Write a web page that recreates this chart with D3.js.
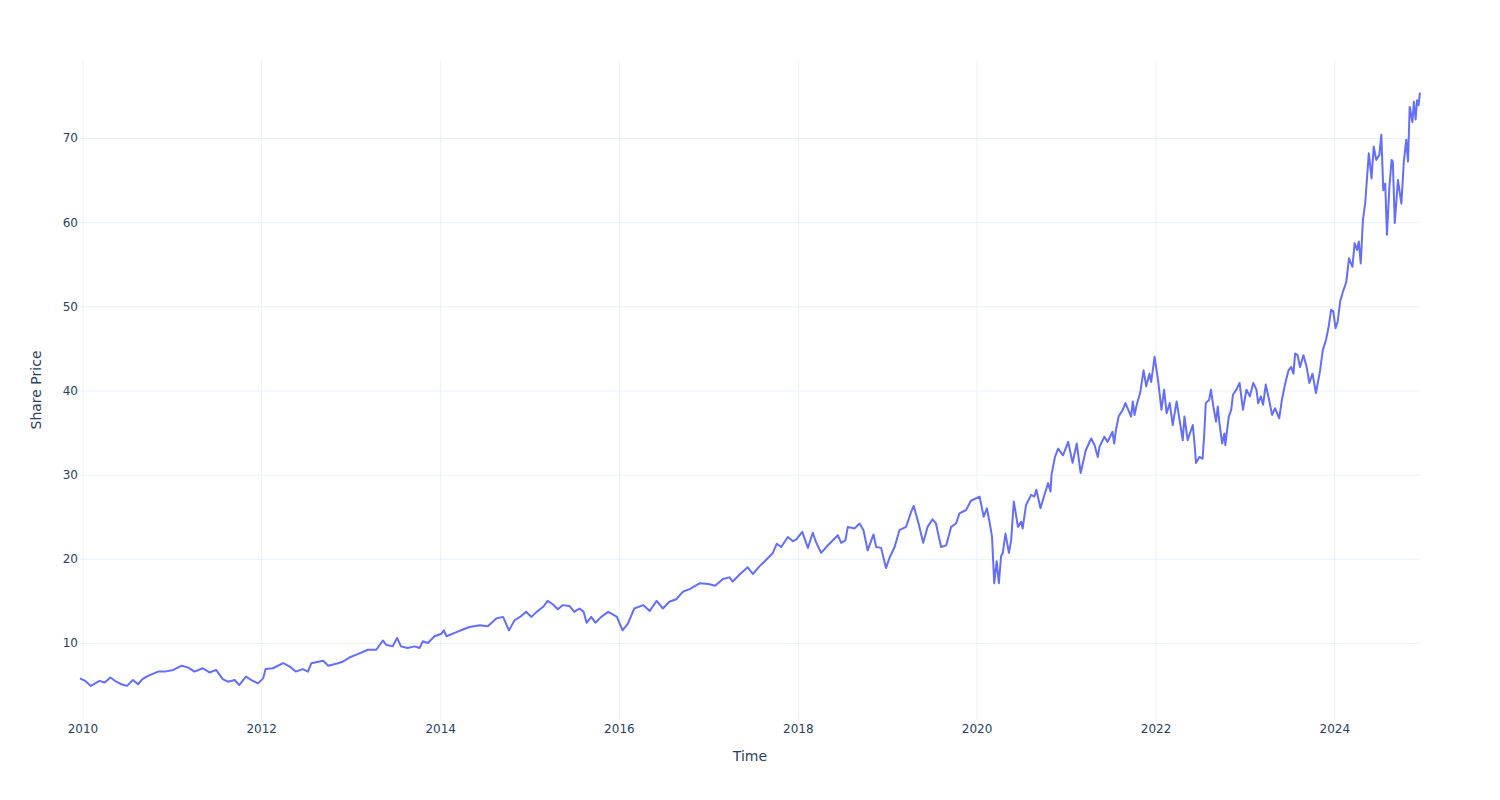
<!DOCTYPE html>
<html>
<head>
<meta charset="utf-8">
<script src="https://cdn.jsdelivr.net/npm/d3@7"></script>
<style>
  html, body { margin: 0; padding: 0; background: #fff; }
  svg { display: block; }
  text { font-family: "DejaVu Sans", sans-serif; }
</style>
</head>
<body>
<svg id="chart" width="1500" height="800"></svg>
<script>
const dates = [
"2009-12-22","2010-01-12","2010-02-04","2010-03-12","2010-04-02","2010-04-25","2010-05-19","2010-06-09","2010-07-02","2010-07-26",
"2010-08-16","2010-09-03","2010-09-26","2010-11-06","2010-12-03","2011-01-07","2011-02-10","2011-03-07","2011-04-04","2011-05-07",
"2011-06-04","2011-07-01","2011-07-28","2011-08-18","2011-09-15","2011-10-03","2011-10-31","2011-11-22","2011-12-19","2012-01-09",
"2012-01-19","2012-02-18","2012-03-31","2012-04-27","2012-05-21","2012-06-19","2012-07-10","2012-07-24","2012-09-10","2012-10-01",
"2012-11-10","2012-12-01","2012-12-28","2013-02-01","2013-03-12","2013-04-15","2013-05-12","2013-05-25","2013-06-21","2013-07-09",
"2013-07-25","2013-08-21","2013-09-18","2013-10-09","2013-10-22","2013-11-12","2013-12-09","2014-01-06","2014-01-16","2014-01-27",
"2014-03-01","2014-04-04","2014-05-01","2014-06-12","2014-07-15","2014-08-18","2014-09-15","2014-10-09","2014-11-01","2014-11-28",
"2014-12-18","2015-01-09","2015-01-30","2015-02-26","2015-03-16","2015-04-06","2015-04-27","2015-05-16","2015-06-13","2015-07-03",
"2015-07-24","2015-08-10","2015-08-22","2015-09-10","2015-09-27","2015-10-21","2015-11-18","2015-12-07","2015-12-24","2016-01-16",
"2016-02-07","2016-03-04","2016-04-09","2016-05-06","2016-06-03","2016-06-29","2016-07-25","2016-08-22","2016-09-19","2016-10-16",
"2016-11-27","2017-01-01","2017-01-28","2017-03-01","2017-03-28","2017-04-10","2017-05-07","2017-06-10","2017-07-01","2017-07-28",
"2017-08-25","2017-09-21","2017-10-07","2017-10-25","2017-11-21","2017-12-12","2017-12-26","2018-01-19","2018-02-11","2018-03-03",
"2018-03-16","2018-04-06","2018-04-27","2018-05-17","2018-06-13","2018-06-27","2018-07-14","2018-07-24","2018-08-20","2018-09-10",
"2018-09-26","2018-10-13","2018-11-06","2018-11-17","2018-12-07","2018-12-27","2019-01-10","2019-01-31","2019-02-20","2019-03-19",
"2019-04-09","2019-04-19","2019-05-09","2019-05-28","2019-06-15","2019-07-05","2019-07-19","2019-08-09","2019-08-30","2019-09-19",
"2019-10-09","2019-10-23","2019-11-19","2019-12-09","2020-01-13","2020-01-30","2020-02-12","2020-02-24","2020-03-04","2020-03-13",
"2020-03-23","2020-04-01","2020-04-10","2020-04-17","2020-04-28","2020-05-12","2020-05-21","2020-06-01","2020-06-18","2020-07-01",
"2020-07-07","2020-07-21","2020-08-11","2020-08-24","2020-09-01","2020-09-18","2020-10-06","2020-10-19","2020-10-29","2020-11-02",
"2020-11-16","2020-11-29","2020-12-19","2021-01-09","2021-01-27","2021-02-13","2021-03-01","2021-03-22","2021-04-13","2021-04-27",
"2021-05-10","2021-05-17","2021-06-06","2021-06-19","2021-07-09","2021-07-16","2021-07-23","2021-08-03","2021-08-20","2021-08-31",
"2021-09-23","2021-09-30","2021-10-07","2021-10-16","2021-10-30","2021-11-13","2021-11-24","2021-12-07","2021-12-14","2021-12-28",
"2022-01-11","2022-01-25","2022-02-05","2022-02-15","2022-02-28","2022-03-12","2022-03-28","2022-04-09","2022-04-22","2022-04-29",
"2022-05-12","2022-06-02","2022-06-09","2022-06-15","2022-06-29","2022-07-12","2022-07-19","2022-07-25","2022-08-08","2022-08-15",
"2022-08-25","2022-09-05","2022-09-12","2022-09-19","2022-09-30","2022-10-09","2022-10-13","2022-10-27","2022-11-06","2022-11-13",
"2022-11-27","2022-12-10","2022-12-24","2023-01-07","2023-01-21","2023-02-04","2023-02-17","2023-02-24","2023-03-07","2023-03-16",
"2023-03-27","2023-04-08","2023-04-22","2023-05-04","2023-05-21","2023-06-01","2023-06-15","2023-06-28","2023-07-09","2023-07-18",
"2023-07-25","2023-08-04","2023-08-14","2023-08-28","2023-09-10","2023-09-21","2023-10-04","2023-10-18","2023-11-04","2023-11-15",
"2023-11-28","2023-12-09","2023-12-19","2023-12-28","2024-01-06","2024-01-15","2024-01-25","2024-02-05","2024-02-19","2024-03-01",
"2024-03-15","2024-03-24","2024-04-03","2024-04-10","2024-04-18","2024-04-27","2024-05-06","2024-05-10","2024-05-21","2024-06-01",
"2024-06-10","2024-06-20","2024-07-03","2024-07-11","2024-07-19","2024-07-27","2024-08-03","2024-08-13","2024-08-22","2024-08-27",
"2024-09-04","2024-09-17","2024-10-01","2024-10-11","2024-10-21","2024-10-28","2024-11-04","2024-11-15","2024-11-21","2024-11-28",
"2024-12-04","2024-12-10","2024-12-16"
];
const prices = [
5.8,5.5,4.9,5.5,5.3,5.9,5.4,5.1,4.9,5.6,
5.1,5.7,6.1,6.6,6.6,6.8,7.3,7.1,6.6,7.0,
6.5,6.8,5.7,5.4,5.6,5.0,6.0,5.6,5.2,5.8,
6.9,7.0,7.6,7.2,6.6,6.9,6.6,7.6,7.9,7.3,
7.6,7.8,8.3,8.7,9.2,9.2,10.3,9.8,9.6,10.6,
9.6,9.4,9.6,9.4,10.2,10.0,10.8,11.1,11.5,10.8,
11.2,11.6,11.9,12.1,12.0,12.9,13.1,11.5,12.7,13.2,
13.7,13.1,13.7,14.3,15.0,14.6,14.0,14.5,14.4,13.7,
14.1,13.7,12.4,13.1,12.4,13.1,13.7,13.4,13.1,11.5,
12.3,14.1,14.5,13.8,15.0,14.1,14.9,15.2,16.1,16.4,
17.1,17.0,16.8,17.6,17.8,17.3,18.1,19.0,18.2,19.1,
19.9,20.7,21.8,21.4,22.6,22.1,22.3,23.2,21.3,23.1,
22.0,20.7,21.4,22.0,22.8,21.9,22.2,23.8,23.6,24.2,
23.4,21.0,22.9,21.4,21.3,18.9,20.1,21.4,23.4,23.8,
25.6,26.3,24.2,21.9,23.8,24.7,24.2,21.4,21.6,23.8,
24.2,25.4,25.8,26.9,27.4,25.0,26.0,24.2,22.6,17.1,
19.7,17.1,20.3,20.7,23.0,20.7,22.2,26.8,23.8,24.4,
23.6,26.4,27.6,27.4,28.2,26.0,27.8,29.0,28.0,30.0,
32.1,33.1,32.3,33.9,31.4,33.7,30.2,32.9,34.3,33.5,
32.1,33.3,34.5,33.9,35.1,33.7,35.3,36.9,37.7,38.5,
36.9,38.7,37.1,38.3,39.7,42.4,40.5,42.0,41.0,44.0,
41.25,37.7,40.1,37.3,38.5,35.9,38.7,36.5,34.1,36.9,
34.1,35.9,33.7,31.4,32.1,31.9,34.9,38.5,38.9,40.1,
38.1,36.3,38.1,36.1,33.7,34.9,33.5,36.9,37.7,39.5,
40.1,40.9,37.7,40.1,39.3,40.9,40.1,38.5,39.3,38.3,
40.7,39.1,37.1,37.9,36.7,38.9,40.9,42.4,42.8,42.0,
44.4,44.2,42.8,44.2,42.8,40.9,42.0,39.7,42.4,44.8,
46.0,47.6,49.6,49.4,47.4,48.2,50.6,51.7,52.9,55.7,
54.7,57.5,56.7,57.7,55.1,60.3,62.2,63.8,68.2,65.2,
69.0,67.4,68.0,70.4,63.8,64.6,58.5,64.2,67.4,67.2,
59.9,65.0,62.2,67.2,69.8,67.2,73.7,71.9,74.3,72.2,
74.5,73.9,75.4
];
const yTickValues = [10, 20, 30, 40, 50, 60, 70];
const xTitle = "Time";
const yTitle = "Share Price";

(function () {
  const parse = d3.timeParse("%Y-%m-%d");
  const data = dates.map((d, i) => ({ date: parse(d), value: prices[i] }));

  const mLeft = 80, mRight = 1420, mTop = 60, mBottom = 720;
  const textColor = "#2a3f5f";
  const gridColor = "#EBF0F8";

  const svg = d3.select("#chart");

  const x = d3.scaleTime().domain(d3.extent(data, d => d.date)).range([mLeft, mRight]);
  const y = d3.scaleLinear().domain([0.85, 79.27]).range([mBottom, mTop]);

  // x grid + labels
  const xAxis = d3.axisBottom(x)
    .ticks(d3.timeYear.every(2))
    .tickFormat(d3.timeFormat("%Y"))
    .tickSize(-(mBottom - mTop))
    .tickPadding(4.5);
  const gx = svg.append("g").attr("transform", `translate(0,${mBottom})`).call(xAxis);
  gx.select(".domain").remove();
  gx.selectAll(".tick line").attr("stroke", gridColor).attr("stroke-width", 1);
  gx.selectAll(".tick text").attr("fill", textColor).attr("font-size", 12)
    .attr("font-family", "DejaVu Sans, sans-serif");

  // y grid + labels
  const yAxis = d3.axisLeft(y)
    .tickValues(yTickValues)
    .tickSize(-(mRight - mLeft))
    .tickPadding(2);
  const gy = svg.append("g").attr("transform", `translate(${mLeft},0)`).call(yAxis);
  gy.select(".domain").remove();
  gy.selectAll(".tick line").attr("stroke", gridColor).attr("stroke-width", 1);
  gy.selectAll(".tick text").attr("fill", textColor).attr("font-size", 12)
    .attr("font-family", "DejaVu Sans, sans-serif");

  // line
  const line = d3.line().x(d => x(d.date)).y(d => y(d.value));
  svg.append("path")
    .datum(data)
    .attr("fill", "none")
    .attr("stroke", "#636efa")
    .attr("stroke-width", 2)
    .attr("stroke-linejoin", "round")
    .attr("d", line);

  // axis titles
  svg.append("text")
    .attr("x", (mLeft + mRight) / 2)
    .attr("y", 761)
    .attr("text-anchor", "middle")
    .attr("font-size", 14)
    .attr("fill", textColor)
    .text(xTitle);

  svg.append("text")
    .attr("transform", `translate(40.5,${(mTop + mBottom) / 2}) rotate(-90)`)
    .attr("text-anchor", "middle")
    .attr("font-size", 14)
    .attr("fill", textColor)
    .text(yTitle);
})();
</script>
</body>
</html>
